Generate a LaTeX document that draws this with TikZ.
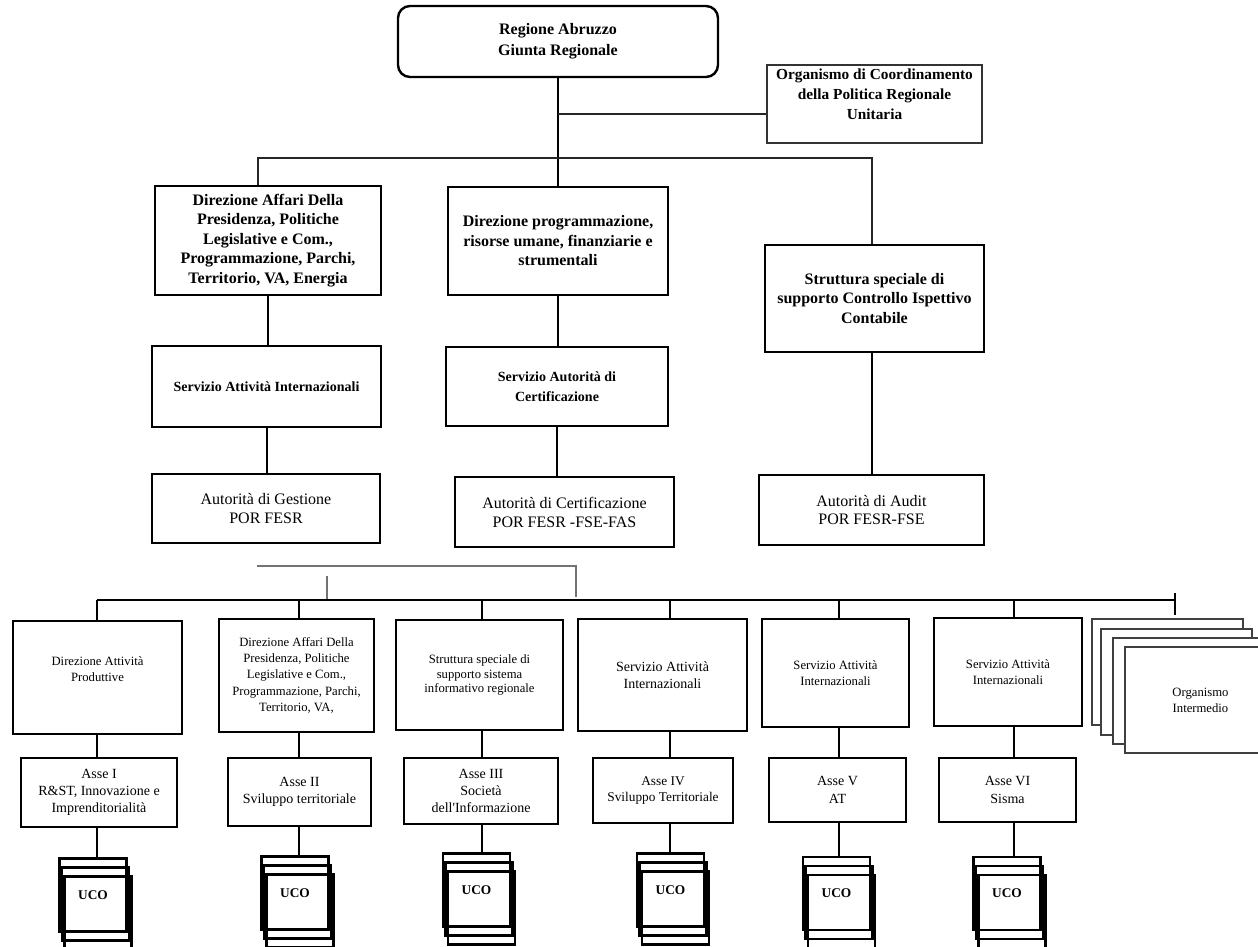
\documentclass[tikz,border=0pt]{standalone}
\usepackage{fontspec}
\setmainfont{Liberation Serif}

\tikzset{every picture/.style={line width=0.75pt}}
\tikzset{
  box/.style={draw, line width=1.6pt, inner sep=0pt, align=center},
  sz/.style 2 args={minimum width=#1*0.75pt, minimum height=#2*0.75pt},
  headbold/.style={font=\fontsize{12}{14.6}\selectfont\bfseries},
  headtxt/.style={font=\fontsize{12}{14.2}\selectfont},
  servbold/.style={font=\fontsize{10.5}{15}\selectfont\bfseries},
  unittxt/.style={font=\fontsize{9.5}{12.2}\selectfont},
  assetxt/.style={font=\fontsize{10.5}{13}\selectfont},
  ucobox/.style={draw, line width=1.6pt, inner sep=0pt, sz={67}{73}, font=\fontsize{10}{12}\selectfont\bfseries},
  oibox/.style={draw=black!75, line width=0.8pt, fill=white, inner sep=0pt, align=center, sz={151}{106}, font=\fontsize{9.5}{12}\selectfont},
  link/.style={line width=1.5pt},
  lowlink/.style={line width=1.1pt},
  thinlink/.style={line width=1pt, draw=black!85},
  greylink/.style={line width=0.9pt, draw=black!55},
}

\begin{document}
\begin{tikzpicture}[x=0.75pt,y=0.75pt,yscale=-1,xscale=1]
\useasboundingbox (0,0) rectangle (1258,947);

%Rounded Rect: Regione
\node [box, sz={320}{71}, rounded corners=9pt, line width=1.8pt, font=\fontsize{12}{15.5}\selectfont\bfseries] (reg) at (558,41.5) {Regione Abruzzo\\Giunta Regionale};
%Rectangle: Organismo di Coordinamento
\node [box, sz={215}{78}, line width=1pt, draw=black!80, font=\fontsize{11.5}{15}\selectfont\bfseries] (ocp) at (874.5,104) {Organismo di Coordinamento\\della Politica Regionale\\Unitaria\\~};

%Rectangles: Direzioni
\node [box, sz={226}{109}, headbold] (da) at (268,240.5) {Direzione Affari Della\\Presidenza, Politiche\\Legislative e Com.,\\Programmazione, Parchi,\\Territorio, VA, Energia};
\node [box, sz={220}{108}, headbold] (dp) at (558,241) {Direzione programmazione,\\risorse umane, finanziarie e\\strumentali};
\node [box, sz={219}{107}, headbold] (ssc) at (874.5,298.5) {Struttura speciale di\\supporto Controllo Ispettivo\\Contabile};

%Rectangles: Servizi
\node [box, sz={229}{81}, servbold] (sai) at (266.5,386.5) {Servizio Attività Internazionali};
\node [box, sz={222}{79}, servbold] (sac) at (557,386.5) {Servizio Autorità di\\Certificazione};

%Rectangles: Autorità
\node [box, sz={228}{69}, headtxt] (ag) at (266,508.5) {Autorità di Gestione\\POR FESR};
\node [box, sz={219}{70}, headtxt] (acf) at (564.5,512) {Autorità di Certificazione\\POR FESR -FSE-FAS};
\node [box, sz={225}{70}, headtxt] (aa) at (871.5,510) {Autorità di Audit\\POR FESR-FSE};

%Straight Lines: upper
\draw [link] (reg.south) -- (dp.north);
\coordinate (j1) at (558,114);
\draw [thinlink] (j1) -- (j1 -| ocp.west);
\coordinate (h1) at (258,158);
\coordinate (h2) at (872,158);
\draw [thinlink] (h1 |- da.north) -- (h1) -- (h2) -- (h2 |- ssc.north);
\draw [link] (da.south) -- (da.south |- sai.north);
\draw [link] (sai.south) -- (sai.south |- ag.north);
\draw [link] (dp.south) -- (dp.south |- sac.north);
\draw [link] (sac.south) -- (sac.south |- acf.north);
\draw [link] (h2 |- ssc.south) -- (h2 |- aa.north);

%Straight Lines: grey
\coordinate (g1) at (257,566);
\coordinate (g2) at (576,566);
\coordinate (g3) at (576,597);
\coordinate (g4) at (327,576);
\coordinate (g5) at (327,600);
\draw [greylink] (g1) -- (g2) -- (g3);
\draw [greylink] (g4) -- (g5);

%Rectangles: lower units
\node [box, sz={169}{113}, unittxt] (b1) at (97.5,677.5) {Direzione Attività\\Produttive\\~};
\node [box, sz={155}{113}, unittxt] (b2) at (296.5,675.5) {Direzione Affari Della\\Presidenza, Politiche\\Legislative e Com.,\\Programmazione, Parchi,\\Territorio, VA,};
\node [box, sz={167}{110}, font=\fontsize{9.5}{11}\selectfont] (b3) at (479.5,675) {Struttura speciale di\\supporto sistema\\informativo regionale};
\node [box, sz={169}{112}, font=\fontsize{10.5}{12.8}\selectfont] (b4) at (662.5,675) {Servizio Attività\\Internazionali};
\node [box, sz={147}{108}, unittxt] (b5) at (835.5,673) {Servizio Attività\\Internazionali};
\node [box, sz={148}{108}, unittxt] (b6) at (1008,672) {Servizio Attività\\Internazionali};

%Rectangles: Assi
\node [box, sz={156}{69}, assetxt] (a1) at (99,792.5) {Asse I\\R\&ST, Innovazione e\\Imprenditorialità};
\node [box, sz={143}{68}, assetxt] (a2) at (299.5,792) {Asse II\\Sviluppo territoriale};
\node [box, sz={154}{66}, assetxt] (a3) at (481,791) {Asse III\\Società\\dell\textquotesingle Informazione};
\node [box, sz={140}{65}, font=\fontsize{10}{12.5}\selectfont] (a4) at (663,790.5) {Asse IV\\Sviluppo Territoriale};
\node [box, sz={137}{64}, assetxt] (a5) at (837.5,790) {Asse V\\AT};
\node [box, sz={137}{64}, assetxt] (a6) at (1007.5,790) {Asse VI\\Sisma};

%Rectangles: UCO
\node [ucobox] (u1c) at (98,913) {};
\node [ucobox] (u1b) at (95.5,904) {};
\node [ucobox] (u1) at (93,895) {UCO};
\node [ucobox] (u2c) at (300,911) {};
\node [ucobox] (u2b) at (297.5,902) {};
\node [ucobox] (u2) at (295,893) {UCO};
\node [ucobox] (u3c) at (481.5,908) {};
\node [ucobox] (u3b) at (479,899) {};
\node [ucobox] (u3) at (476.5,890) {UCO};
\node [ucobox] (u4c) at (675.5,908) {};
\node [ucobox] (u4b) at (673,899) {};
\node [ucobox] (u4) at (670.5,890) {UCO};
\node [ucobox] (u5c) at (841.5,911.5) {};
\node [ucobox] (u5b) at (839,902.5) {};
\node [ucobox] (u5) at (836.5,893.5) {UCO};
\node [ucobox] (u6c) at (1012,911.5) {};
\node [ucobox] (u6b) at (1009.5,902.5) {};
\node [ucobox] (u6) at (1007,893.5) {UCO};

%Rectangles: Organismo Intermedio
\node [oibox] (oi1) at (1167.5,672) {};
\node [oibox] (oi2) at (1176.5,682) {};
\node [oibox] (oi3) at (1188.5,691) {};
\node [oibox] (oi4) at (1200.5,700) {Organismo\\Intermedio};

%Straight Lines: lower
\coordinate (t1) at (97,600);
\coordinate (t2) at (299,600);
\coordinate (t3) at (482,600);
\coordinate (t4) at (670,600);
\coordinate (t5) at (839,600);
\coordinate (t6) at (1014,600);
\coordinate (t7) at (1175,600);
\coordinate (k1) at (1175,593);
\coordinate (k2) at (1175,615);
\draw [link] (t1) -- (t7);
\draw [link] (k1) -- (k2);

\draw [link] (t1) -- (t1 |- b1.north);
\draw [lowlink] (t1 |- b1.south) -- (t1 |- a1.north);
\draw [lowlink] (t1 |- a1.south) -- (t1 |- u1.north);

\draw [link] (t2) -- (t2 |- b2.north);
\draw [link] (t2 |- b2.south) -- (t2 |- a2.north);
\draw [link] (t2 |- a2.south) -- (t2 |- u2.north);

\draw [link] (t3) -- (t3 |- b3.north);
\draw [link] (t3 |- b3.south) -- (t3 |- a3.north);
\draw [link] (t3 |- a3.south) -- (t3 |- u3.north);

\draw [link] (t4) -- (t4 |- b4.north);
\draw [link] (t4 |- b4.south) -- (t4 |- a4.north);
\draw [link] (t4 |- a4.south) -- (t4 |- u4.north);

\draw [link] (t5) -- (t5 |- b5.north);
\draw [link] (t5 |- b5.south) -- (t5 |- a5.north);
\draw [lowlink] (t5 |- a5.south) -- (t5 |- u5.north);

\draw [link] (t6) -- (t6 |- b6.north);
\draw [link] (t6 |- b6.south) -- (t6 |- a6.north);
\draw [lowlink] (t6 |- a6.south) -- (t6 |- u6.north);

\end{tikzpicture}
\end{document}
